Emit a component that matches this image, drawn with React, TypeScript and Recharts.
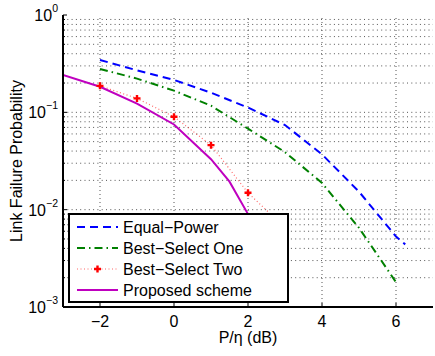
import React from 'react';
import { LineChart, Line, XAxis, YAxis, ReferenceLine, Legend } from 'recharts';

const FONT = '"Liberation Sans", Arial, Helvetica, sans-serif';

const xTicks = [-2, 0, 2, 4, 6];
const xTickLabels = ['−2', '0', '2', '4', '6'];
const yDecades = [0.001, 0.01, 0.1, 1];
const yDecadeLabels = ['−3', '−2', '−1', '0'];
const yMinorMultipliers = [1, 2, 3, 4, 5, 6, 7, 8, 9];

const seriesNames = ['Equal−Power', 'Best−Select One', 'Best−Select Two', 'Proposed scheme'];

const equalX = [-2, -1, 0, 1, 2, 3, 4, 5, 6, 6.25];
const equalP = [0.345, 0.27, 0.215, 0.159, 0.112, 0.074, 0.037, 0.0153, 0.0053, 0.0044];

const bestOneX = [-2, -1, 0, 1, 2, 3, 4, 5, 6];
const bestOneP = [0.279, 0.222, 0.167, 0.117, 0.068, 0.039, 0.0188, 0.0065, 0.0018];

const bestTwoX = [-2, -1, 0, 1, 2, 3];
const bestTwoP = [0.187, 0.139, 0.09, 0.046, 0.0149, 0.0065];

const proposedX = [-3, -2, -1, 0, 1, 1.5, 2, 2.5];
const proposedP = [0.2415, 0.183, 0.123, 0.075, 0.033, 0.0194, 0.009, 0.004];

const toRows = (xs: number[], ps: number[]) => xs.map((x, i) => ({ x, p: ps[i] }));

const equalData = toRows(equalX, equalP);
const bestOneData = toRows(bestOneX, bestOneP);
const bestTwoData = toRows(bestTwoX, bestTwoP);
const proposedData = toRows(proposedX, proposedP);

const yTicks: number[] = [];
[0.001, 0.01, 0.1].forEach((d) => yMinorMultipliers.forEach((m) => yTicks.push(d * m)));
yTicks.push(1);
const yGrid = yTicks.filter((v) => v > 0.0011 && v < 0.99);

const decadeIndex = (v: number) => yDecades.findIndex((d) => Math.abs(d - v) < d * 1e-6);

const COLORS = {
  equal: '#0000ff',
  bestOne: '#008000',
  bestTwo: '#ff0000',
  proposed: '#bf00bf',
};

const BottomTick = (props: any) => {
  const { x, y, payload } = props;
  const i = xTicks.indexOf(payload.value);
  return (
    <g>
      <line x1={x} x2={x} y1={y} y2={y - 4} stroke="#000" strokeWidth={1} />
      <text x={x} y={y + 20} textAnchor="middle" fontSize={16} fontFamily={FONT} fill="#000">
        {xTickLabels[i]}
      </text>
    </g>
  );
};

const TopTick = (props: any) => {
  const { x, y } = props;
  return <line x1={x} x2={x} y1={y} y2={y + 4} stroke="#000" strokeWidth={1} />;
};

const LeftTick = (props: any) => {
  const { x, y, payload } = props;
  const idx = decadeIndex(payload.value);
  const major = idx >= 0;
  return (
    <g>
      <line x1={x} x2={x + (major ? 4 : 2)} y1={y} y2={y} stroke="#000" strokeWidth={1} />
      {major && (
        <text x={x - 5} y={y + 6} textAnchor="end" fontSize={16} fontFamily={FONT} fill="#000">
          10
          <tspan dy={-9} fontSize={10.5}>
            {yDecadeLabels[idx]}
          </tspan>
        </text>
      )}
    </g>
  );
};

const RightTick = (props: any) => {
  const { x, y, payload } = props;
  const major = decadeIndex(payload.value) >= 0;
  return <line x1={x} x2={x - (major ? 4 : 2)} y1={y} y2={y} stroke="#000" strokeWidth={1} />;
};

const PlusDot = (props: any) => {
  const { cx, cy, index } = props;
  if (cx == null || cy == null) return <g key={`d${index}`} />;
  const s = 3.5;
  return (
    <path
      key={`d${index}`}
      d={`M${cx - s},${cy}H${cx + s}M${cx},${cy - s}V${cy + s}`}
      stroke={COLORS.bestTwo}
      strokeWidth={2.4}
      fill="none"
    />
  );
};

const legendStyles = [
  { color: COLORS.equal, dash: '8 5', width: 2 },
  { color: COLORS.bestOne, dash: '8 4 1.5 4', width: 2 },
  { color: COLORS.bestTwo, dash: '1 2.5', width: 1.2 },
  { color: COLORS.proposed, dash: undefined, width: 2 },
];

const renderLegend = () => (
  <svg width={221} height={90} style={{ display: 'block' }}>
    <rect x={1} y={1} width={219} height={88} fill="#fff" stroke="#000" strokeWidth={2} />
    {seriesNames.map((name, i) => {
      const cy = 14 + i * 21;
      const st = legendStyles[i];
      return (
        <g key={name}>
          <line
            x1={9}
            x2={50}
            y1={cy}
            y2={cy}
            stroke={st.color}
            strokeWidth={st.width}
            strokeDasharray={st.dash}
            opacity={i === 2 ? 0.6 : 1}
          />
          {i === 2 && (
            <path d={`M26,${cy}H33M29.5,${cy - 3.5}V${cy + 3.5}`} stroke={COLORS.bestTwo} strokeWidth={2.4} />
          )}
          <text x={55} y={cy + 5.5} fontSize={16} fontFamily={FONT} fill="#000">
            {name}
          </text>
        </g>
      );
    })}
  </svg>
);

export default function App() {
  return (
    <div style={{ position: 'absolute', left: 0, top: 0, background: '#fff' }}>
      <LineChart width={435} height={356} margin={{ top: 15, right: 2, bottom: 0, left: 0 }}>
        <XAxis
          type="number"
          dataKey="x"
          domain={[-3, 7]}
          ticks={xTicks}
          interval={0}
          allowDataOverflow
          height={49}
          tickSize={0}
          tickMargin={0}
          tickLine={false}
          axisLine={{ stroke: '#000', strokeWidth: 2 }}
          tick={<BottomTick />}
          label={{
            content: (p: any) => {
              const vb = p.viewBox || {};
              return (
                <text
                  x={vb.x + vb.width / 2}
                  y={vb.y + 36}
                  textAnchor="middle"
                  fontSize={16}
                  fontFamily={FONT}
                  fill="#000"
                >
                  P/η (dB)
                </text>
              );
            },
          }}
        />
        <XAxis
          xAxisId="t"
          orientation="top"
          type="number"
          dataKey="x"
          domain={[-3, 7]}
          ticks={xTicks}
          interval={0}
          allowDataOverflow
          height={0}
          tickSize={0}
          tickMargin={0}
          tickLine={false}
          axisLine={{ stroke: '#000', strokeWidth: 2 }}
          tick={<TopTick />}
        />
        <YAxis
          type="number"
          scale="log"
          domain={[0.001, 1]}
          ticks={yTicks}
          interval={0}
          allowDataOverflow
          width={63}
          tickSize={0}
          tickMargin={0}
          tickLine={false}
          axisLine={{ stroke: '#000', strokeWidth: 2 }}
          tick={<LeftTick />}
          label={{
            content: (p: any) => {
              const vb = p.viewBox || {};
              const cx = vb.x + 22;
              const cy = vb.y + vb.height / 2;
              return (
                <text
                  x={cx}
                  y={cy}
                  textAnchor="middle"
                  fontSize={16}
                  fontFamily={FONT}
                  fill="#000"
                  transform={`rotate(-90, ${cx}, ${cy})`}
                >
                  Link Failure Probability
                </text>
              );
            },
          }}
        />
        <YAxis
          yAxisId="r"
          orientation="right"
          type="number"
          scale="log"
          domain={[0.001, 1]}
          ticks={yTicks}
          interval={0}
          allowDataOverflow
          width={0}
          tickSize={0}
          tickMargin={0}
          tickLine={false}
          axisLine={{ stroke: '#000', strokeWidth: 2 }}
          tick={<RightTick />}
        />
        {xTicks.map((v) => (
          <ReferenceLine key={`vx${v}`} x={v} stroke="#555" strokeWidth={1} strokeDasharray="1 3" />
        ))}
        {yGrid.map((v, i) => (
          <ReferenceLine key={`hy${i}`} y={v} stroke="#555" strokeWidth={1} strokeDasharray="1 3.3" />
        ))}
        <Line
          data={equalData}
          dataKey="p"
          type="linear"
          stroke={COLORS.equal}
          strokeWidth={2}
          strokeDasharray="8 5"
          dot={false}
          isAnimationActive={false}
        />
        <Line
          data={bestOneData}
          dataKey="p"
          type="linear"
          stroke={COLORS.bestOne}
          strokeWidth={2}
          strokeDasharray="8 4 1.5 4"
          dot={false}
          isAnimationActive={false}
        />
        <Line
          data={bestTwoData}
          dataKey="p"
          type="linear"
          stroke={COLORS.bestTwo}
          strokeOpacity={0.6}
          strokeWidth={1.2}
          strokeDasharray="1 2.5"
          dot={PlusDot}
          isAnimationActive={false}
        />
        <Line
          data={proposedData}
          dataKey="p"
          type="linear"
          stroke={COLORS.proposed}
          strokeWidth={2}
          dot={false}
          isAnimationActive={false}
        />
        <Legend
          layout="vertical"
          verticalAlign="middle"
          align="center"
          wrapperStyle={{ left: 68, top: 213, width: 221, height: 90 }}
          content={renderLegend}
        />
      </LineChart>
    </div>
  );
}
